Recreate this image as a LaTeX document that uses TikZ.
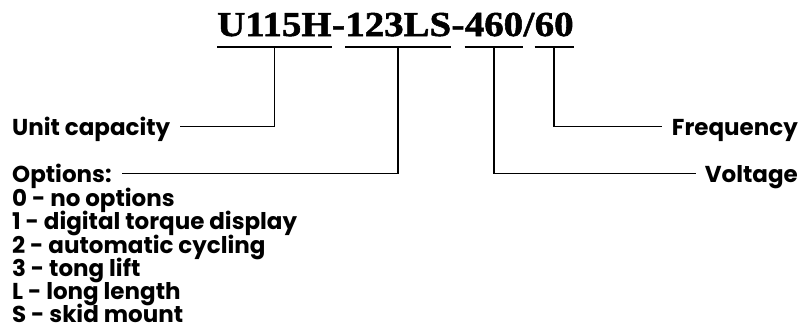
\documentclass[tikz,border=0pt]{standalone}
\usepackage{fontspec}
\newfontfamily\codefont[FakeStretch=1.11,BoldFeatures={FakeBold=1.5}]{Liberation Serif}
\newfontfamily\labelfont{Poppins}
\usetikzlibrary{positioning}

\begin{document}
\begin{tikzpicture}[x=1pt,y=-1pt,
  part/.style={inner sep=0pt, text height=23pt, text depth=0pt,
    font=\codefont\bfseries\fontsize{35}{35}\selectfont},
  lbl/.style={inner sep=0pt, text height=17pt, text depth=0pt,
    font=\labelfont\bfseries\fontsize{23}{23}\selectfont},
  wire/.style={line width=1.6pt}]

\useasboundingbox (0,0) rectangle (802,330);

% --- Model code ---
\node[part, anchor=base west] (u1) at (217,36) {U115H};
\node[part, anchor=base west] (d1) at (u1.base east) {-};
\node[part, anchor=base west] (u2) at (d1.base east) {123LS};
\node[part, anchor=base west] (d2) at (u2.base east) {-};
\node[part, anchor=base west] (u3) at (d2.base east) {460};
\node[part, anchor=base west] (d3) at (u3.base east) {/};
\node[part, anchor=base west] (u4) at (d3.base east) {60};

% underlines and tick points
\foreach \p in {u1,u2,u3,u4} {
  \draw[wire] (\p.west |- 0,47) -- (\p.east |- 0,47);
  \coordinate (\p t) at (\p.center |- 0,47);
}

% --- Left labels ---
\node[lbl, anchor=base west] (cap) at (12,135) {Unit capacity};
\node[lbl, anchor=base west] (opt) at (12,182) {Options:};
\foreach \txt [count=\i] in {0 - no options, 1 - digital torque display,
    2 - automatic cycling, 3 - tong lift, L - long length, S - skid mount}
  \node[lbl, anchor=base west] (opt\i) at (12,{183.5+23.2*\i}) {\txt};

% --- Right labels ---
\node[lbl, anchor=base east] (freq) at (798,135) {Frequency};
\node[lbl, anchor=base east] (volt) at (798,182) {Voltage};

% --- Leaders ---
\draw[wire] (u1t) |- ([xshift=10pt]cap.east);
\draw[wire] (u2t) |- ([xshift=10pt]opt.east);
\draw[wire] (u3t) |- ([xshift=-9pt]volt.west);
\draw[wire] (u4t) |- ([xshift=-10pt]freq.west);

\end{tikzpicture}
\end{document}
